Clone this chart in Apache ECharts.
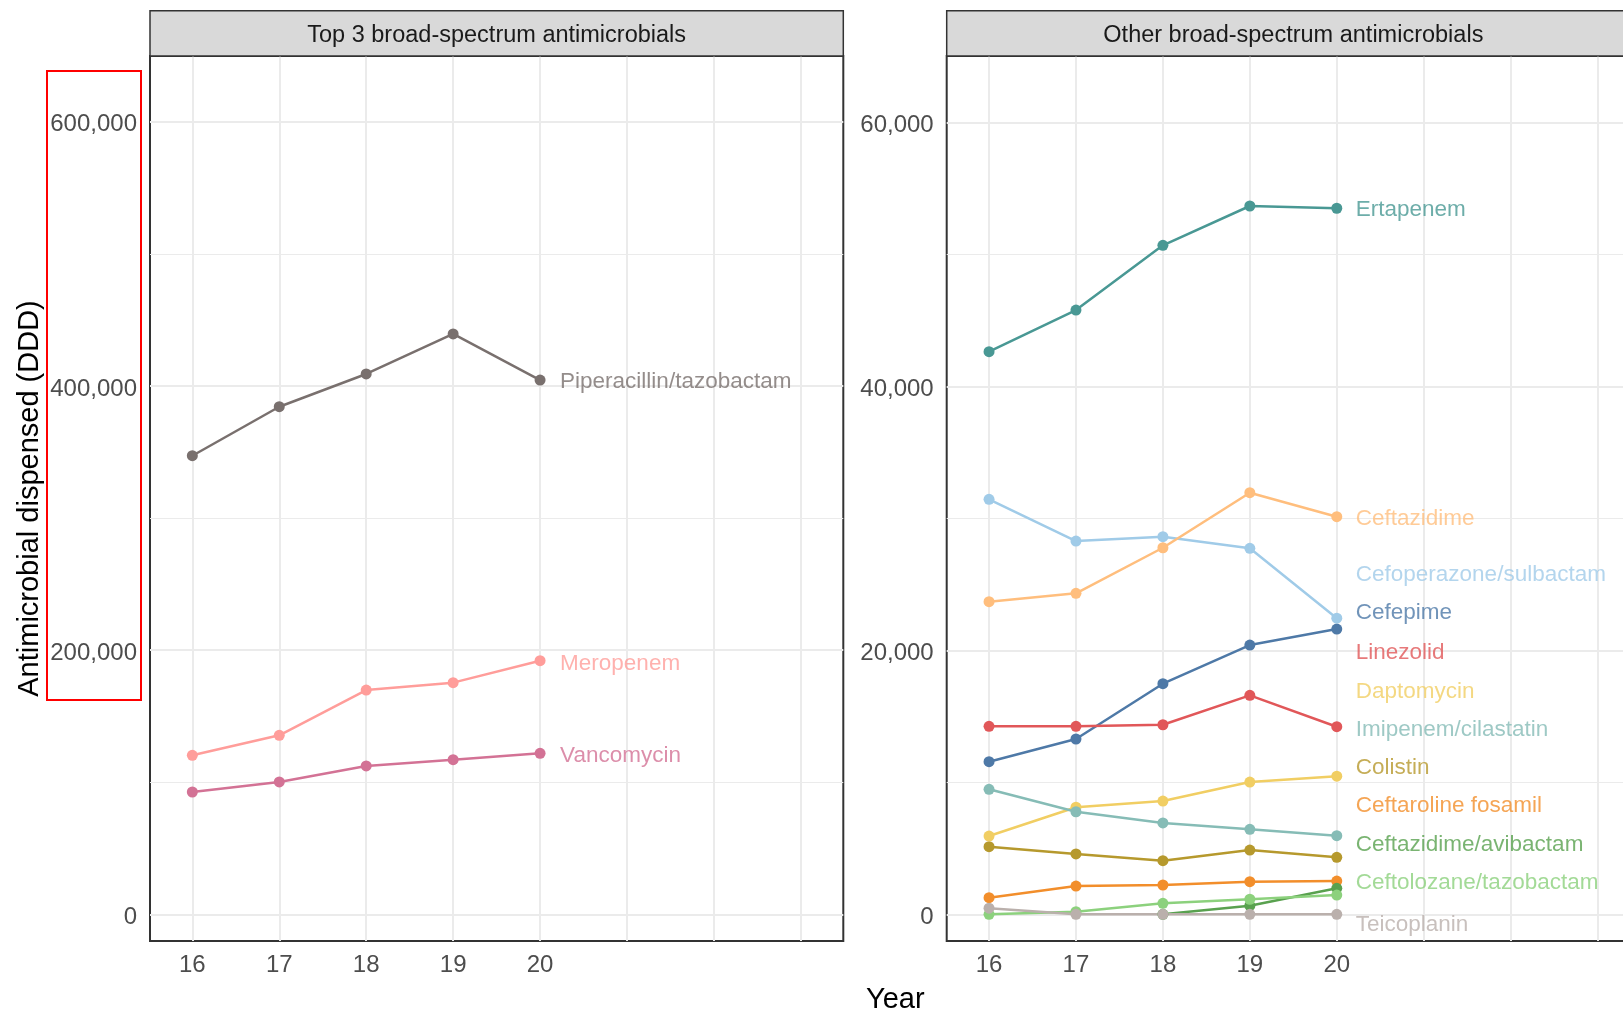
<!DOCTYPE html>
<html>
<head>
<meta charset="utf-8">
<title>Broad-spectrum antimicrobials dispensed</title>
<script src="https://cdn.jsdelivr.net/npm/echarts@6/dist/echarts.min.js"></script>
<style>
  html, body { margin: 0; padding: 0; background: #ffffff; }
  #chart { width: 1623px; height: 1010px; }
</style>
</head>
<body>
<div id="chart"></div>
<script>
// ---- Data: antimicrobial dispensed (DDD) by year ----
const years = [16, 17, 18, 19, 20];

// Panel 1: top 3 broad-spectrum antimicrobials
const piperacillinTazobactam = [347200, 384300, 409100, 439400, 404500];
const meropenem = [120400, 135500, 169800, 175400, 192000];
const vancomycin = [92600, 100200, 112300, 117100, 121900];

// Panel 2: other broad-spectrum antimicrobials
const ertapenem = [42620, 45780, 50680, 53660, 53490];
const ceftazidime = [23680, 24320, 27770, 31940, 30120];
const cefoperazoneSulbactam = [31440, 28280, 28610, 27730, 22430];
const cefepime = [11560, 13280, 17470, 20400, 21610];
const linezolid = [14240, 14240, 14360, 16590, 14210];
const daptomycin = [5930, 8110, 8580, 10020, 10460];
const imipenemCilastatin = [9470, 7770, 6920, 6440, 5960];
const colistin = [5120, 4570, 4060, 4870, 4320];
const ceftarolineFosamil = [1260, 2140, 2220, 2470, 2520];
const ceftazidimeAvibactam = [null, null, 0, 650, 1970];
const ceftolozaneTazobactam = [0, 200, 830, 1140, 1460];
const teicoplanin = [460, 0, 0, 0, 0];

// Axis tick labels
const xTickLabels = [16, 17, 18, 19, 20];
const xGridValues = [16, 17, 18, 19, 20, 21, 22, 23];
const leftYTicks = [0, 200000, 400000, 600000];
const leftYMinor = [100000, 300000, 500000];
const rightYTicks = [0, 20000, 40000, 60000];
const rightYMinor = [10000, 30000, 50000];

const stripTitles = ['Top 3 broad-spectrum antimicrobials', 'Other broad-spectrum antimicrobials'];

// ---- Styling / layout ----
const FONT = '"Liberation Sans", Arial, Helvetica, sans-serif';
const colors = {
  'Cefepime': '#4E79A7',
  'Cefoperazone/sulbactam': '#A0CBE8',
  'Ceftaroline fosamil': '#F28E2B',
  'Ceftazidime': '#FFBE7D',
  'Ceftazidime/avibactam': '#59A14F',
  'Ceftolozane/tazobactam': '#8CD17D',
  'Colistin': '#B6992D',
  'Daptomycin': '#F1CE63',
  'Ertapenem': '#499894',
  'Imipenem/cilastatin': '#86BCB6',
  'Linezolid': '#E15759',
  'Meropenem': '#FF9D9A',
  'Piperacillin/tazobactam': '#79706E',
  'Teicoplanin': '#BAB0AC',
  'Vancomycin': '#D37295'
};

// drug series; drawn in alphabetical order so later ones sit on top
const drugs = [
  { name: 'Cefepime', panel: 1, values: cefepime },
  { name: 'Cefoperazone/sulbactam', panel: 1, values: cefoperazoneSulbactam },
  { name: 'Ceftaroline fosamil', panel: 1, values: ceftarolineFosamil },
  { name: 'Ceftazidime', panel: 1, values: ceftazidime },
  { name: 'Ceftazidime/avibactam', panel: 1, values: ceftazidimeAvibactam },
  { name: 'Ceftolozane/tazobactam', panel: 1, values: ceftolozaneTazobactam },
  { name: 'Colistin', panel: 1, values: colistin },
  { name: 'Daptomycin', panel: 1, values: daptomycin },
  { name: 'Ertapenem', panel: 1, values: ertapenem },
  { name: 'Imipenem/cilastatin', panel: 1, values: imipenemCilastatin },
  { name: 'Linezolid', panel: 1, values: linezolid },
  { name: 'Meropenem', panel: 0, values: meropenem },
  { name: 'Piperacillin/tazobactam', panel: 0, values: piperacillinTazobactam },
  { name: 'Teicoplanin', panel: 1, values: teicoplanin },
  { name: 'Vancomycin', panel: 0, values: vancomycin }
];

// Name labels sit right of the last point, spread vertically so they don't collide
const labelSpread = {
  'Piperacillin/tazobactam': 403200,
  'Meropenem': 190000,
  'Vancomycin': 119900,
  'Ertapenem': 53410,
  'Ceftazidime': 30000,
  'Cefoperazone/sulbactam': 25700,
  'Cefepime': 22850,
  'Linezolid': 19820,
  'Daptomycin': 16860,
  'Imipenem/cilastatin': 13960,
  'Colistin': 11110,
  'Ceftaroline fosamil': 8200,
  'Ceftazidime/avibactam': 5300,
  'Ceftolozane/tazobactam': 2350,
  'Teicoplanin': -760
};

const panelLeft = [150, 946.7];
const panelTop = 56;
const panelW = 693.3;
const panelH = 885;
const xMin = 15.513, xMax = 23.488;
const yRange = [[-20215, 649834], [-2023, 65025]];
const yMajor = [leftYTicks, rightYTicks];
const yMinor = [leftYMinor, rightYMinor];

const grids = [], xAxes = [], yAxes = [], series = [], graphics = [];

for (let p = 0; p < 2; p++) {
  grids.push({
    left: panelLeft[p], top: panelTop, width: panelW, height: panelH,
    outerBoundsMode: 'none', containLabel: false,
    show: true, borderColor: '#333333', borderWidth: 2, backgroundColor: 'rgba(0,0,0,0)'
  });
  xAxes.push({
    gridIndex: p, type: 'value', min: xMin, max: xMax,
    axisLine: { show: false },
    axisTick: { show: false, customValues: xGridValues },
    axisLabel: { customValues: xTickLabels, fontSize: 24, color: '#4D4D4D', fontFamily: FONT, margin: 12 },
    splitLine: { show: true, lineStyle: { color: '#EBEBEB', width: 2 } }
  });
  yAxes.push({
    gridIndex: p, type: 'value', min: yRange[p][0], max: yRange[p][1],
    axisLine: { show: false },
    axisTick: { show: false, customValues: yMajor[p] },
    axisLabel: {
      customValues: yMajor[p], fontSize: 24, color: '#4D4D4D', fontFamily: FONT, margin: 13,
      verticalAlign: 'top', lineHeight: 6,
      formatter: v => Number(v).toLocaleString('en-US')
    },
    splitLine: { show: true, lineStyle: { color: '#EBEBEB', width: 2 } }
  });
  yAxes.push({
    gridIndex: p, type: 'value', min: yRange[p][0], max: yRange[p][1],
    axisLine: { show: false },
    axisTick: { show: false, customValues: yMinor[p] },
    axisLabel: { show: false },
    splitLine: { show: true, lineStyle: { color: '#EBEBEB', width: 1.2 } }
  });

  // facet strip
  graphics.push({
    type: 'rect', z: 10,
    shape: { x: panelLeft[p], y: 10.7, width: panelW, height: panelTop - 10.7 },
    style: { fill: '#D9D9D9', stroke: '#333333', lineWidth: 1.5 }
  });
  graphics.push({
    type: 'text', z: 11,
    x: panelLeft[p] + panelW / 2, y: 35.8,
    style: { text: stripTitles[p], font: '23.5px ' + FONT, fill: '#1A1A1A', align: 'center', verticalAlign: 'middle' }
  });
}

const pointsOf = vals => years.map((yr, i) => [yr, vals[i]]).filter(d => d[1] !== null);

// lines first, then points above all lines
drugs.forEach(d => {
  series.push({
    type: 'line', name: d.name, xAxisIndex: d.panel, yAxisIndex: d.panel * 2,
    data: pointsOf(d.values), showSymbol: false, z: 2, silent: true,
    lineStyle: { color: colors[d.name], width: 2.5 }, itemStyle: { color: colors[d.name] }
  });
});
drugs.forEach(d => {
  series.push({
    type: 'scatter', name: d.name + ' points', xAxisIndex: d.panel, yAxisIndex: d.panel * 2,
    data: pointsOf(d.values), symbol: 'circle', symbolSize: 11, z: 3, silent: true,
    itemStyle: { color: colors[d.name], opacity: 1 }
  });
});
drugs.forEach(d => {
  const lastYear = years[years.length - 1];
  series.push({
    type: 'scatter', name: d.name + ' label', xAxisIndex: d.panel, yAxisIndex: d.panel * 2,
    data: [[lastYear, labelSpread[d.name]]], symbolSize: 0.01, z: 4, silent: true, clip: false,
    itemStyle: { color: 'rgba(0,0,0,0)' },
    label: {
      show: true, position: 'right', distance: d.panel === 0 ? 20 : 19,
      formatter: d.name, color: colors[d.name], fontSize: 22.5, fontFamily: FONT
    }
  });
});

// axis titles
graphics.push({
  type: 'text', z: 11, x: 30, y: panelTop + panelH / 2, rotation: Math.PI / 2,
  style: { text: 'Antimicrobial dispensed (DDD)', font: '29px ' + FONT, fill: '#000000', align: 'center', verticalAlign: 'middle' }
});
graphics.push({
  type: 'text', z: 11, x: 895.3, y: 999.5,
  style: { text: 'Year', font: '29px ' + FONT, fill: '#000000', align: 'center', verticalAlign: 'middle' }
});
// highlight box around the left panel's value labels
graphics.push({
  type: 'rect', z: 12,
  shape: { x: 47, y: 71, width: 94, height: 629 },
  style: { fill: 'none', stroke: '#FF0000', lineWidth: 2 }
});

const chart = echarts.init(document.getElementById('chart'), null, { renderer: 'canvas' });
chart.setOption({
  backgroundColor: '#ffffff',
  animation: false,
  textStyle: { fontFamily: FONT },
  grid: grids,
  xAxis: xAxes,
  yAxis: yAxes,
  series: series,
  graphic: graphics
});
</script>
</body>
</html>
